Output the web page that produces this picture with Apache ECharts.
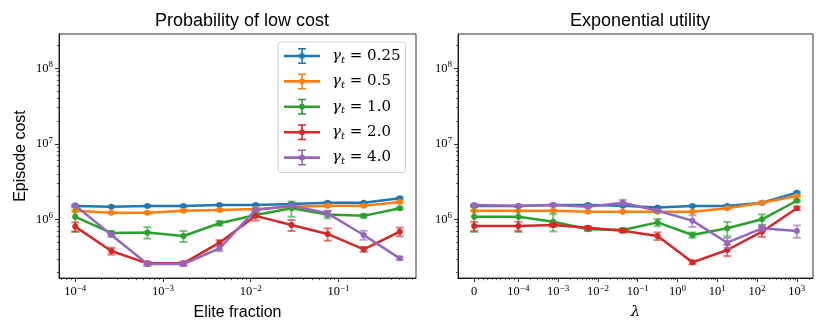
<!DOCTYPE html>
<html>
<head>
<meta charset="utf-8">
<script src="https://cdn.jsdelivr.net/npm/echarts@6/dist/echarts.min.js"></script>
<style>
  html,body{margin:0;padding:0;background:#fff;}
  #chart{width:830px;height:332px;}
</style>
</head>
<body>
<div id="chart"></div>
<script>
// x values of both panels
const eliteFraction = [1e-4, 2.58e-4, 6.64e-4, 1.71e-3, 4.41e-3, 1.14e-2, 2.92e-2, 7.53e-2, 0.194, 0.5]
const lambdas = [0, 1e-4, 7.5e-4, 5.62e-3, 4.22e-2, 0.316, 2.37, 17.8, 133, 1000]
const gammas = ['0.25', '0.5', '1.0', '2.0', '4.0']

// probability of low cost: mean episode cost per gamma_t
const lowCost025 = [1.50e6, 1.47e6, 1.50e6, 1.50e6, 1.55e6, 1.55e6, 1.60e6, 1.66e6, 1.66e6, 1.90e6]
const lowCost05  = [1.30e6, 1.22e6, 1.22e6, 1.30e6, 1.33e6, 1.37e6, 1.47e6, 1.51e6, 1.51e6, 1.69e6]
const lowCost1   = [1.08e6, 6.6e5, 6.7e5, 6.0e5, 8.85e5, 1.14e6, 1.40e6, 1.16e6, 1.11e6, 1.40e6]
const lowCost2   = [8.0e5, 3.8e5, 2.61e5, 2.61e5, 4.9e5, 1.11e6, 8.4e5, 6.4e5, 4.0e5, 6.85e5]
const lowCost4   = [1.53e6, 6.2e5, 2.56e5, 2.56e5, 4.13e5, 1.33e6, 1.51e6, 1.2e6, 6.2e5, 3.04e5]
// error bar half widths
const lowCostErr025 = [3e4, 3e4, 3e4, 3e4, 3e4, 3e4, 3e4, 4e4, 4e4, 6e4]
const lowCostErr05  = [4e4, 4e4, 4e4, 4e4, 4e4, 4e4, 4e4, 5e4, 4e4, 5e4]
const lowCostErr1   = [4e5, 3.5e4, 1.15e5, 1.0e5, 6e4, 6e4, 3.2e5, 1.3e5, 6e4, 5e4]
const lowCostErr2   = [1.1e5, 4e4, 1.5e4, 1.5e4, 4e4, 1.5e5, 1.4e5, 1.2e5, 3e4, 9e4]
const lowCostErr4   = [4e4, 3e4, 1.5e4, 1.5e4, 3.5e4, 5e4, 5e4, 1e5, 8.5e4, 1.5e4]

// exponential utility
const expUtil025 = [1.50e6, 1.50e6, 1.55e6, 1.55e6, 1.51e6, 1.43e6, 1.50e6, 1.50e6, 1.66e6, 2.25e6]
const expUtil05  = [1.30e6, 1.30e6, 1.30e6, 1.26e6, 1.26e6, 1.26e6, 1.26e6, 1.40e6, 1.66e6, 2.04e6]
const expUtil1   = [1.08e6, 1.08e6, 9.3e5, 7.4e5, 7.2e5, 9.1e5, 6.2e5, 7.6e5, 1.0e6, 1.76e6]
const expUtil2   = [8.15e5, 8.15e5, 8.4e5, 7.7e5, 7.06e5, 6.0e5, 2.69e5, 3.92e5, 6.85e5, 1.40e6]
const expUtil4   = [1.55e6, 1.50e6, 1.55e6, 1.47e6, 1.66e6, 1.30e6, 9.6e5, 4.9e5, 7.6e5, 7.0e5]
const expUtilErr025 = [3e4, 3e4, 3e4, 3e4, 3e4, 3e4, 3e4, 3e4, 4e4, 6e4]
const expUtilErr05  = [3e4, 3e4, 3e4, 3e4, 3e4, 3e4, 3e4, 3e4, 4e4, 5e4]
const expUtilErr1   = [4e5, 4e5, 2.4e5, 4e4, 4e4, 1e5, 5e4, 1.65e5, 1.6e5, 5e4]
const expUtilErr2   = [1.1e5, 1.1e5, 5e4, 4e4, 4e4, 7e4, 1.5e4, 6.7e4, 1e5, 7e4]
const expUtilErr4   = [4e4, 4e4, 4e4, 4e4, 1.5e5, 4e4, 1.7e5, 7.5e4, 7e4, 1.3e5]

const lowCostMeans = [lowCost025, lowCost05, lowCost1, lowCost2, lowCost4]
const lowCostErrs = [lowCostErr025, lowCostErr05, lowCostErr1, lowCostErr2, lowCostErr4]
const expUtilMeans = [expUtil025, expUtil05, expUtil1, expUtil2, expUtil4]
const expUtilErrs = [expUtilErr025, expUtilErr05, expUtilErr1, expUtilErr2, expUtilErr4]

const colors = ['#1f77b4', '#ff7f0e', '#2ca02c', '#d62728', '#9467bd']

// symlog like matplotlib (linthresh 1e-4, linscale 1) -> position in decades
const LINTHRESH = 1e-4
const LINSCALE = 1 / (1 - 1 / 10)
function symlog(v) {
  if (v < LINTHRESH) return Math.log10(LINTHRESH) - LINSCALE * (1 - v / LINTHRESH)
  return Math.log10(v)
}

const yMin = 1.67e5, yMax = 2.84e8
const xLeftMin = 6.53e-5, xLeftMax = 0.766
const xRightMin = -5.517, xRightMax = 3.406

function logMinors(lo, hi) {
  let out = []
  for (let n = -6; n <= 9; n++) {
    for (let k = 2; k <= 9; k++) {
      let v = k * Math.pow(10, n)
      if (v >= lo && v <= hi) out.push(v)
    }
  }
  return out
}
function logMajors(lo, hi) {
  let out = []
  for (let n = -6; n <= 9; n++) {
    let v = Math.pow(10, n)
    if (v >= lo && v <= hi) out.push(v)
  }
  return out
}
const rightMajors = [symlog(0)]
for (let n = -4; n <= 3; n++) rightMajors.push(n)
const rightMinors = []
for (let k = 1; k <= 9; k++) rightMinors.push(symlog(k * 1e-5))
for (let n = -4; n <= 3; n++) {
  for (let k = 2; k <= 9; k++) {
    let p = n + Math.log10(k)
    if (p <= xRightMax) rightMinors.push(p)
  }
}

function powLabel(e) {
  return '{b|10}{e|' + String(e).replace('-', '\u2212') + '}'
}
const tickRich = {
  b: {fontFamily: 'Liberation Serif', fontSize: 12.5, lineHeight: 16, color: '#000'},
  e: {fontFamily: 'Liberation Serif', fontSize: 9, lineHeight: 10, verticalAlign: 'top', color: '#000'}
}

function majorAxis(grid, type, pos, min, max, ticks, fmt, extra) {
  return Object.assign({
    gridIndex: grid, type: type, position: pos, min: min, max: max,
    axisLine: {show: true, onZero: false, lineStyle: {color: '#000', width: 0.8}},
    axisTick: {show: true, length: 4, customValues: ticks, lineStyle: {color: '#000', width: 0.8}},
    axisLabel: {show: true, customValues: ticks, formatter: fmt, margin: 6, rich: tickRich},
    splitLine: {show: false}
  }, extra || {})
}
function minorAxis(grid, type, pos, min, max, ticks) {
  return {
    gridIndex: grid, type: type, position: pos, min: min, max: max,
    axisLine: {show: false, onZero: false},
    axisTick: {show: true, length: 2.2, customValues: ticks, lineStyle: {color: '#000', width: 0.6}},
    axisLabel: {show: false},
    splitLine: {show: false}
  }
}
const logFmt = v => powLabel(Math.round(Math.log10(v)))
const symFmt = v => v < -4.5 ? '{b|0}' : powLabel(Math.round(v))

// error bars as custom series
function errorBars(params, api) {
  const x = api.value(0)
  const top = api.coord([x, api.value(2)])
  const bot = api.coord([x, api.value(1)])
  const cap = 4
  const style = {stroke: api.visual('color'), lineWidth: 2, opacity: 0.6}
  return {type: 'group', children: [
    {type: 'line', shape: {x1: top[0], y1: top[1], x2: bot[0], y2: bot[1]}, style: style},
    {type: 'line', shape: {x1: top[0] - cap, y1: top[1], x2: top[0] + cap, y2: top[1]}, style: style},
    {type: 'line', shape: {x1: bot[0] - cap, y1: bot[1], x2: bot[0] + cap, y2: bot[1]}, style: style}
  ]}
}

const series = []
function addPanel(xs, means, errs, axis) {
  for (let i = 0; i < gammas.length; i++) {
    const name = '\u03b3t = ' + gammas[i]
    series.push({
      type: 'custom', name: 'err' + axis + i, xAxisIndex: axis, yAxisIndex: axis,
      renderItem: errorBars, itemStyle: {color: colors[i]},
      encode: {x: 0, y: [1, 2]}, z: 2 + i * 2,
      data: xs.map((x, j) => [x, means[i][j] - errs[i][j], means[i][j] + errs[i][j]])
    })
    series.push({
      type: 'line', name: name, xAxisIndex: axis, yAxisIndex: axis,
      symbol: 'circle', symbolSize: 6, showSymbol: true,
      itemStyle: {color: colors[i]}, lineStyle: {color: colors[i], width: 2.5},
      z: 3 + i * 2,
      data: xs.map((x, j) => [x, means[i][j]])
    })
  }
}
addPanel(eliteFraction, lowCostMeans, lowCostErrs, 0)
addPanel(lambdas.map(symlog), expUtilMeans, expUtilErrs, 2)

// errorbar-shaped legend icon
const errIcon = 'path://M0,7.2L36,7.2L36,9.8L0,9.8Z M17.2,1.5L18.8,1.5L18.8,15.5L17.2,15.5Z M14,0.5L22,0.5L22,2L14,2Z M14,15L22,15L22,16.5L14,16.5Z M21,8.5A3,3,0,1,1,15,8.5A3,3,0,1,1,21,8.5Z'

const sansTitle = {fontFamily: 'Liberation Sans', fontSize: 18, fontWeight: 'normal', color: '#000'}
const myChart = echarts.init(document.getElementById('chart'), null, {renderer: 'canvas'})
myChart.setOption({
  animation: false,
  backgroundColor: '#fff',
  title: [
    {text: 'Probability of low cost', left: 237, top: 7, textAlign: 'center', textStyle: sansTitle},
    {text: 'Exponential utility', left: 635, top: 7, textAlign: 'center', textStyle: sansTitle}
  ],
  legend: {
    orient: 'vertical', left: 278, top: 42,
    data: gammas.map(g => ({name: '\u03b3t = ' + g, icon: errIcon})),
    itemWidth: 36, itemHeight: 16, itemGap: 8.4,
    padding: [6, 5, 6, 6],
    borderColor: '#d0d0d0', borderWidth: 1, borderRadius: 3, backgroundColor: 'rgba(255,255,255,0.8)',
    selectedMode: false,
    formatter: name => {
      const v = name.split('= ')[1]
      return '{g|\u03b3}{s|t}{n| = ' + v + '}'
    },
    textStyle: {
      padding: [0, 0, 0, 7],
      rich: {
        g: {fontFamily: 'DejaVu Serif', fontStyle: 'italic', fontSize: 15, lineHeight: 18, color: '#000'},
        s: {fontFamily: 'DejaVu Serif', fontStyle: 'italic', fontSize: 10, lineHeight: 10, verticalAlign: 'bottom', color: '#000'},
        n: {fontFamily: 'DejaVu Serif', fontSize: 15, lineHeight: 18, color: '#000'}
      }
    }
  },
  grid: [
    {left: 59, top: 34, width: 357, height: 244, show: true, borderColor: '#000', borderWidth: 0.8},
    {left: 458, top: 34, width: 355, height: 244, show: true, borderColor: '#000', borderWidth: 0.8}
  ],
  xAxis: [
    majorAxis(0, 'log', 'bottom', xLeftMin, xLeftMax, logMajors(xLeftMin, xLeftMax), logFmt, {
      name: 'Elite fraction', nameLocation: 'middle', nameGap: 27,
      nameTextStyle: {fontFamily: 'Liberation Sans', fontSize: 16, color: '#000'}
    }),
    minorAxis(0, 'log', 'bottom', xLeftMin, xLeftMax, logMinors(xLeftMin, xLeftMax)),
    majorAxis(1, 'value', 'bottom', xRightMin, xRightMax, rightMajors, symFmt, {
      name: '\u03bb', nameLocation: 'middle', nameGap: 27,
      nameTextStyle: {fontFamily: 'DejaVu Serif', fontStyle: 'italic', fontSize: 15, color: '#000'}
    }),
    minorAxis(1, 'value', 'bottom', xRightMin, xRightMax, rightMinors)
  ],
  yAxis: [
    majorAxis(0, 'log', 'left', yMin, yMax, logMajors(yMin, yMax), logFmt, {
      name: 'Episode cost', nameLocation: 'middle', nameGap: 30,
      nameTextStyle: {fontFamily: 'Liberation Sans', fontSize: 16, color: '#000'}
    }),
    minorAxis(0, 'log', 'left', yMin, yMax, logMinors(yMin, yMax)),
    majorAxis(1, 'log', 'left', yMin, yMax, logMajors(yMin, yMax), logFmt),
    minorAxis(1, 'log', 'left', yMin, yMax, logMinors(yMin, yMax))
  ],
  series: series
})
</script>
</body>
</html>
